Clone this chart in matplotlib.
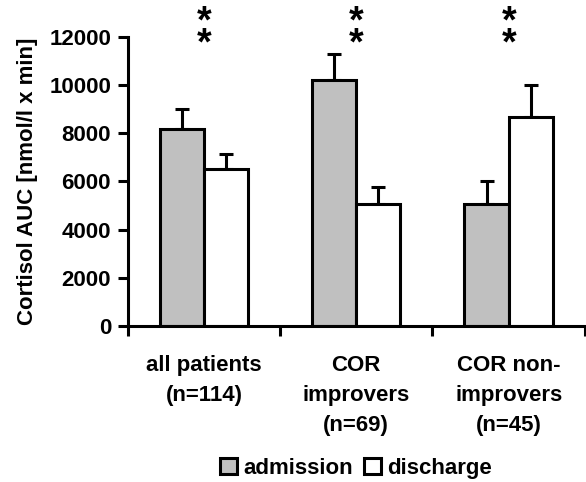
import numpy as np
import matplotlib.pyplot as plt

# data
groups = ["all patients\n(n=114)", "COR\nimprovers\n(n=69)", "COR non-\nimprovers\n(n=45)"]
admission = [8200, 10200, 5050]
admission_err = [800, 1100, 950]
discharge = [6500, 5050, 8700]
discharge_err = [650, 700, 1300]
series_labels = ["admission", "discharge"]
star_marks = ["*\n*", "*\n*", "*\n*"]

plt.rcParams['font.family'] = ['Liberation Sans', 'DejaVu Sans']
plt.rcParams['font.weight'] = 'bold'

fig = plt.figure(figsize=(5.86, 4.82), dpi=100)
ax = fig.add_axes([0.218, 0.324, 0.78, 0.599])

x = np.arange(len(groups))
w = 0.29
lw = 2.2
fs = 16

ax.bar(x - w/2, admission, w, color='#c0c0c0', edgecolor='black', linewidth=lw,
       label=series_labels[0], zorder=2)
ax.bar(x + w/2, discharge, w, color='white', edgecolor='black', linewidth=lw,
       label=series_labels[1], zorder=2)
ax.errorbar(x - w/2, admission, yerr=[np.zeros(3), admission_err], fmt='none',
            ecolor='black', elinewidth=lw, capsize=5, capthick=lw, zorder=1)
ax.errorbar(x + w/2, discharge, yerr=[np.zeros(3), discharge_err], fmt='none',
            ecolor='black', elinewidth=lw, capsize=5, capthick=lw, zorder=1)

for i, s in enumerate(star_marks):
    ax.text(x[i], 12150, s, ha='center', va='center', fontsize=27,
            fontweight='bold', linespacing=0.5, clip_on=False)

ax.set_xlim(-0.5, 2.5)
ax.set_ylim(0, 12000)
ax.set_yticks(np.arange(0, 12001, 2000))
ax.set_xticks(x)
ax.set_xticklabels(groups, fontsize=fs, fontweight='bold', linespacing=1.55)
ax.set_xticks([-0.5, 0.5, 1.5, 2.5], minor=True)
ax.tick_params(axis='x', which='major', length=0, pad=21)
ax.tick_params(axis='x', which='minor', length=7, width=lw, direction='out')
ax.tick_params(axis='y', length=7, width=lw, direction='out', labelsize=fs, pad=5)
for lab in ax.get_yticklabels():
    lab.set_fontweight('bold')

ax.spines['top'].set_visible(False)
ax.spines['right'].set_visible(False)
ax.spines['left'].set_linewidth(lw)
ax.spines['bottom'].set_linewidth(lw)

ax.set_ylabel("Cortisol AUC [nmol/l x min]", fontsize=fs, fontweight='bold', labelpad=8)

fig.legend(loc='center', bbox_to_anchor=(0.608, 0.028), ncol=2, frameon=False,
           handlelength=0.75, handleheight=0.75, handletextpad=0.3,
           columnspacing=0.5, prop={'weight': 'bold', 'size': 16})

fig.savefig("out.png", dpi=100)
